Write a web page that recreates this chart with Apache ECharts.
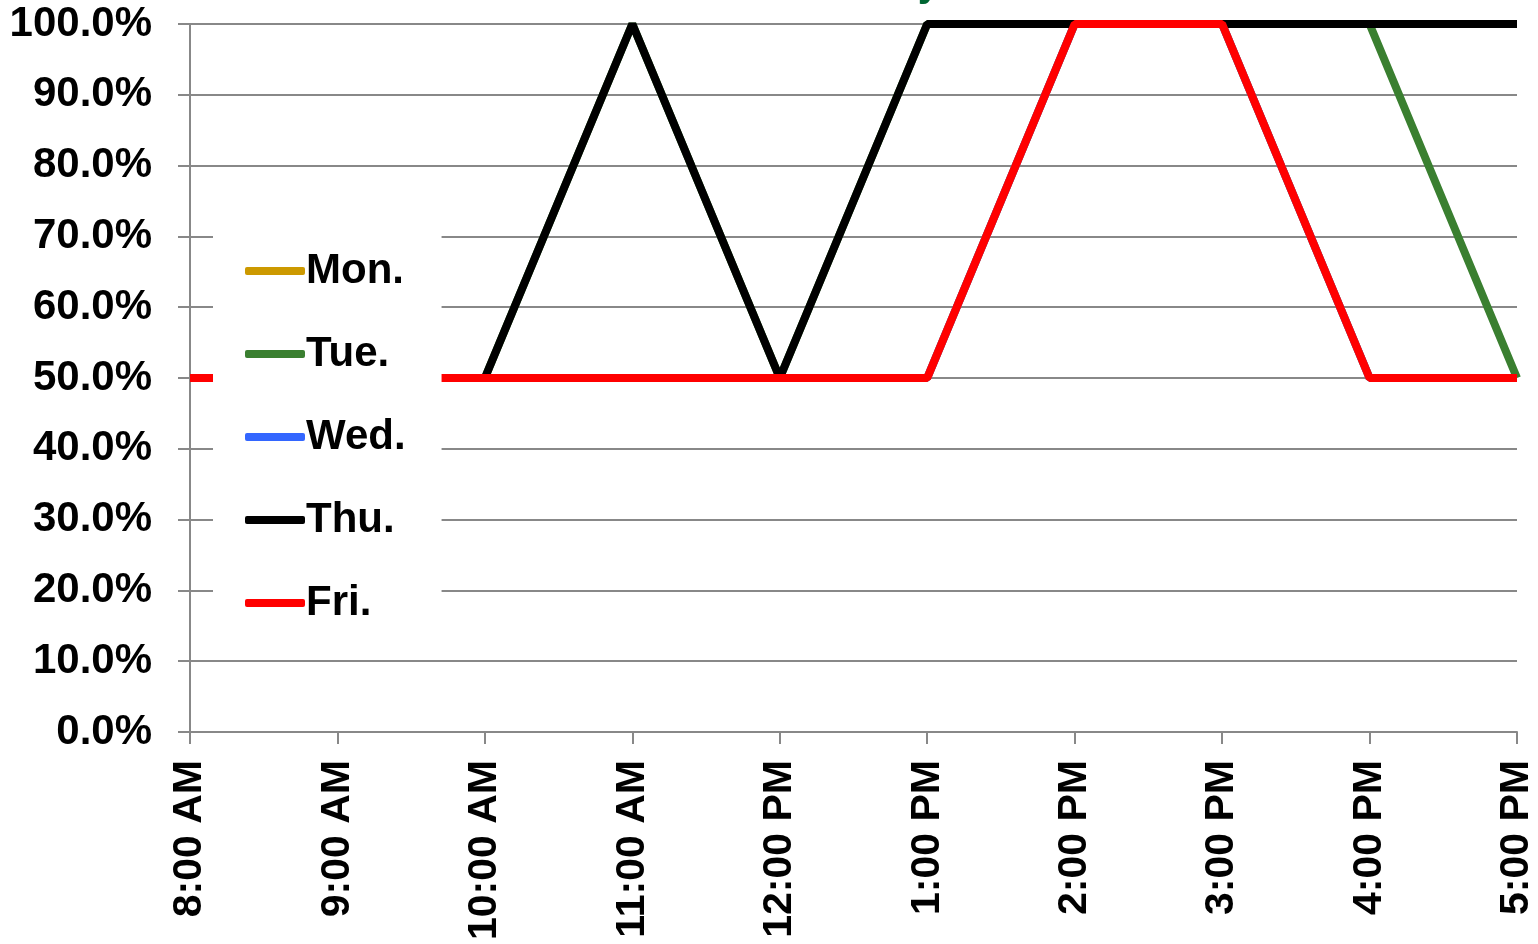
<!DOCTYPE html>
<html>
<head>
<meta charset="utf-8">
<script src="https://cdn.jsdelivr.net/npm/echarts@6/dist/echarts.min.js"></script>
<style>
  html, body { margin: 0; padding: 0; background: #fff; }
  #chart { width: 1538px; height: 944px; }
</style>
</head>
<body>
<div id="chart"></div>
<script>
// time slots on the x axis
const hours = ['8:00 AM', '9:00 AM', '10:00 AM', '11:00 AM', '12:00 PM',
  '1:00 PM', '2:00 PM', '3:00 PM', '4:00 PM', '5:00 PM'];

// occupancy per day (fraction of 1)
const mon = [0.5, 0.5, 0.5, 0.5, 0.5, 0.5, 1, 1, 0.5, 0.5];
const tue = [0.5, 0.5, 0.5, 1, 0.5, 1, 1, 1, 1, 0.5];
const wed = [0.5, 0.5, 0.5, 0.5, 0.5, 0.5, 1, 1, 0.5, 0.5];
const thu = [0.5, 0.5, 0.5, 1, 0.5, 1, 1, 1, 1, 1];
const fri = [0.5, 0.5, 0.5, 0.5, 0.5, 0.5, 1, 1, 0.5, 0.5];

const days = ['Mon.', 'Tue.', 'Wed.', 'Thu.', 'Fri.'];
const colors = ['#cc9900', '#3a7f30', '#3366ff', '#000000', '#ff0000'];

const font = '"Liberation Sans", Arial, sans-serif';

const chart = echarts.init(document.getElementById('chart'));

function line(name, data, color) {
  return {
    name: name,
    type: 'line',
    data: data,
    symbol: 'none',
    lineStyle: { color: color, width: 8, join: 'bevel' },
    itemStyle: { color: color },
  };
}

chart.setOption({
  animation: false,
  color: colors,
  grid: { left: 190, right: 21, top: 24, bottom: 212 },
  graphic: [
    {
      // title sits above the visible area, only its descender shows
      type: 'text',
      style: {
        text: 'Weekly',
        x: 940,
        y: -35,
        align: 'right',
        verticalAlign: 'top',
        font: 'bold 40px ' + font,
        fill: '#006633',
      },
    },
  ],
  legend: {
    orient: 'vertical',
    left: 213,
    top: 230,
    padding: [20, 36, 27, 32],
    backgroundColor: '#fff',
    itemWidth: 60,
    itemHeight: 8,
    itemGap: 41,
    icon: 'roundRect',
    data: days,
    textStyle: {
      fontFamily: font,
      fontWeight: 'bold',
      fontSize: 42,
      lineHeight: 42,
      color: '#000',
      padding: [0, 0, 0, -4],
    },
  },
  xAxis: {
    type: 'category',
    data: hours,
    boundaryGap: false,
    axisLine: { lineStyle: { color: '#888', width: 2 } },
    axisTick: { length: 12, lineStyle: { color: '#888', width: 2 } },
    axisLabel: {
      rotate: 90,
      margin: 28,
      interval: 0,
      fontFamily: font,
      fontWeight: 'bold',
      fontSize: 41,
      color: '#000',
    },
  },
  yAxis: {
    type: 'value',
    min: 0,
    max: 1,
    interval: 0.1,
    axisLine: { show: true, lineStyle: { color: '#888', width: 2 } },
    axisTick: { show: true, length: 12, lineStyle: { color: '#888', width: 2 } },
    splitLine: { lineStyle: { color: '#888', width: 2 } },
    axisLabel: {
      margin: 38,
      fontFamily: font,
      fontWeight: 'bold',
      fontSize: 42,
      color: '#000',
      formatter: (v) => (v * 100).toFixed(1) + '%',
    },
  },
  series: [
    line('Mon.', mon, colors[0]),
    line('Tue.', tue, colors[1]),
    line('Wed.', wed, colors[2]),
    line('Thu.', thu, colors[3]),
    line('Fri.', fri, colors[4]),
  ],
});
</script>
</body>
</html>
